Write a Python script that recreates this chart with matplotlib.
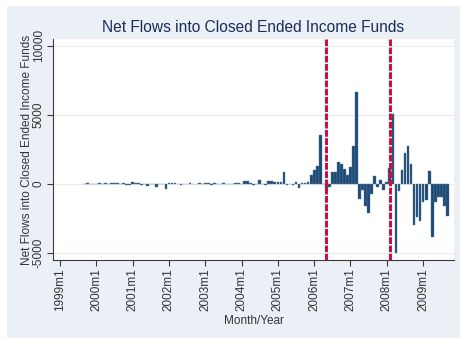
import numpy as np
import matplotlib.pyplot as plt
from matplotlib.patches import Rectangle

# monthly net flows, first bar is 1999m9 (month 8 counting from 1999m1)
first_month = 8
flows = [
    30, 40, 30, 20,                                                  # 1999
    0, 40, 30, 40, 0, 50, 40, 60, 30, 40, -60, -100,                 # 2000
    120, 40, 50, -60, 20, -150, 30, 30, -240, 20, 30, -390,          # 2001
    40, 50, 40, 30, -100, 30, 30, 40, 30, 30, 40, 30,                # 2002
    60, 60, -40, 60, 30, 30, 40, 30, 30, 30, 50, 50,                 # 2003
    -30, 240, 240, 60, -40, 0, 280, 30, -60, 240, 200, 170,          # 2004
    150, 120, 900, -60, 0, -50, 150, -290, 50, 80, 170, 680,         # 2005
    1000, 1300, 3550, 30, -360, -250, 845, 870, 1620, 1450, 1090, 680,   # 2006
    1260, 2730, 6650, -1090, -435, -1570, -2100, -725, 560, -190, 290, -410,  # 2007
    120, 1150, 5075, -5000, -480, 1040, 2225, 2780, 1450, -2950, -2420, -2700,  # 2008
    -1330, -1160, 970, -3870, -1330, -920, -970, -1570, -2300,       # 2009
]
year_ticks = [0, 12, 24, 36, 48, 60, 72, 84, 96, 108, 120]
year_labels = ["1999m1", "2000m1", "2001m1", "2002m1", "2003m1", "2004m1",
               "2005m1", "2006m1", "2007m1", "2008m1", "2009m1"]
y_ticks = [-5000, 0, 5000, 10000]
event_months = [88, 109]  # 2006m5, 2008m2

W, H = 462, 339
fig = plt.figure(figsize=(W / 100, H / 100), dpi=100, facecolor="white")
plt.rcParams["font.family"] = ["Liberation Sans", "DejaVu Sans"]

bg = "#eaf0f5"
fig.patches.append(Rectangle((7 / W, 1 / H), 453 / W, 332 / H,
                             transform=fig.transFigure, facecolor=bg,
                             edgecolor="none", zorder=-10))

ax = fig.add_axes([53 / W, 1 - 260 / H, (454 - 53) / W, (260 - 39) / H])
ax.set_facecolor("white")

months = np.arange(len(flows)) + first_month
ax.bar(months, flows, width=0.9, color="#1c4a74", edgecolor="#5a7d9c",
       linewidth=0.3, zorder=3)

for m in event_months:
    ax.axvline(m, color="#cc1040", lw=2.2, linestyle=(0, (2.2, 0.5)), zorder=4)

ax.set_xlim(-2.3, 130.2)
ax.set_ylim(-5500, 10500)
ax.set_yticks(y_ticks)
ax.set_yticklabels([str(v) for v in y_ticks], rotation=90, va="center")
ax.set_xticks(year_ticks)
ax.set_xticklabels(year_labels, rotation=90)
ax.grid(axis="y", color="#e6edf0", lw=0.8, zorder=0)
ax.set_axisbelow(True)

for s in ["top", "right"]:
    ax.spines[s].set_visible(False)
for s in ["left", "bottom"]:
    ax.spines[s].set_color("#3a3a3a")
    ax.spines[s].set_linewidth(0.8)
ax.tick_params(axis="both", length=4, width=0.8, color="#3a3a3a",
               labelsize=8.5, labelcolor="#333333", pad=2)

ax.set_title("Net Flows into Closed Ended Income Funds", fontsize=11.2,
             color="#1c2d5a", pad=5)
ax.set_ylabel("Net Flows into Closed Ended Income Funds", fontsize=8.5,
              color="#333333", labelpad=0)
ax.set_xlabel("Month/Year", fontsize=8.5, color="#333333", labelpad=3)

fig.savefig("out.png", dpi=100, facecolor="white")
